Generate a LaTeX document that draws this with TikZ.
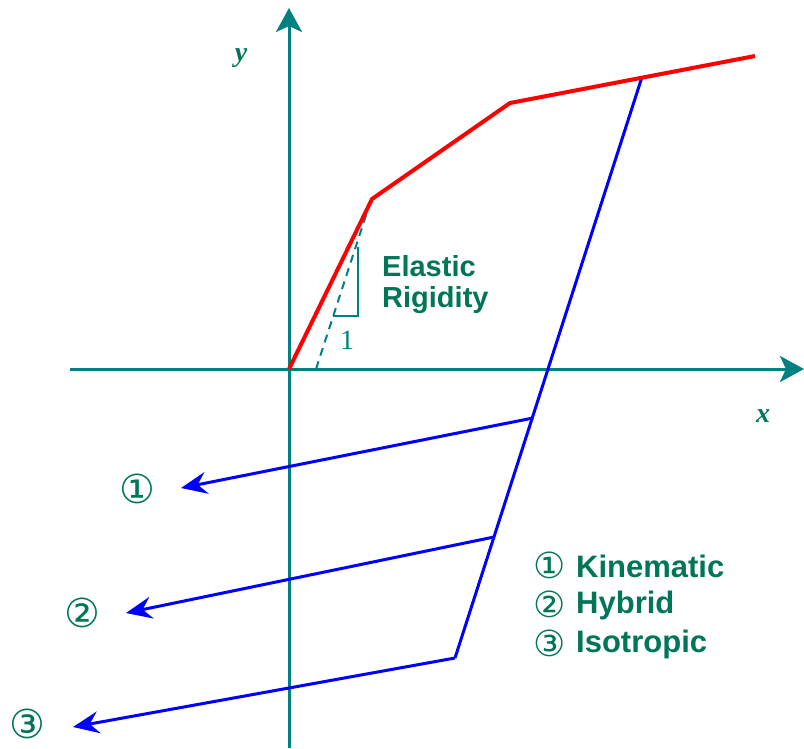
\documentclass[tikz,border=0pt]{standalone}
\usepackage{fontspec}
\setmainfont{Liberation Sans}
\newfontfamily\symfont{DejaVu Sans}
\newfontfamily\serifit{Liberation Serif}
\usetikzlibrary{arrows.meta}
\definecolor{axisteal}{RGB}{0,128,128}
\definecolor{txtgreen}{RGB}{0,118,88}
\tikzset{
  axisline/.style={draw=axisteal, line width=3pt, -{Stealth[length=24pt,width=26pt,inset=6pt]}},
  redline/.style={draw=red, line width=4pt, line join=miter},
  blueline/.style={draw=blue, line width=3pt},
  bluearrow/.style={draw=blue, line width=3pt, -{Stealth[length=26pt,width=22pt,inset=9pt]}},
  lbl/.style={text=txtgreen, font=\bfseries\fontsize{29}{34}\selectfont, inner sep=0pt},
  leg/.style={text=txtgreen, font=\bfseries\fontsize{31}{36}\selectfont, inner sep=0pt},
  circnum/.style={text=txtgreen, font=\symfont\fontsize{40}{42}\selectfont, inner sep=0pt},
  legnum/.style={text=txtgreen, font=\symfont\fontsize{36}{38}\selectfont, inner sep=0pt},
  axlbl/.style={text=txtgreen, font=\serifit\bfseries\itshape\fontsize{28}{30}\selectfont, inner sep=0pt},
}
\begin{document}
\begin{tikzpicture}[x=1pt,y=-1pt]
\useasboundingbox (0,0) rectangle (804,748);
% axes
\coordinate (xs) at (70,369);
\coordinate (xe) at (804,369);
\coordinate (ys) at (289,748);
\coordinate (ye) at (289,8);
\draw[axisline] (xs) -- (xe);
\draw[axisline] (ys) -- (ye);
\node[axlbl] (ylab) at (241,58) {y};
\node[axlbl] (xlab) at (763,416) {x};
% red curve
\coordinate (o) at (289,369);
\coordinate (r1) at (372,199);
\coordinate (r2) at (510,103);
\coordinate (r3) at (755,56);
% dashed elastic line
\coordinate (d0) at (316,369);
\coordinate (d1) at (370,203);
\draw[axisteal, line width=2pt, dash pattern=on 8pt off 6pt] (d0) -- (d1);
% slope triangle
\coordinate (t1) at (358,247);
\coordinate (t2) at (358,316);
\coordinate (t3) at (333,316);
\draw[axisteal, line width=1.5pt] (t1) -- (t2) -- (t3);
\node[text=axisteal, font=\serifit\fontsize{28}{30}\selectfont, inner sep=0pt] (one) at (347,340) {1};
\node[lbl, anchor=west] (el1) at (382,266) {Elastic};
\node[lbl, anchor=west] (el2) at (382,300) {Rigidity};
% blue unloading line
\coordinate (b0) at (642,77);
\coordinate (b1) at (533,418);
\coordinate (b2) at (494,537);
\coordinate (b3) at (455,658);
\draw[blueline] (b0) -- (b3);
% circled numbers at arrow ends
\node[circnum] (c1) at (137,489) {①};
\node[circnum] (c2) at (82,613) {②};
\node[circnum] (c3) at (27,724) {③};
\coordinate (a1) at (181,488);
\coordinate (a2) at (126,613);
\coordinate (a3) at (73,727);
\draw[bluearrow] (b1) -- (a1);
\draw[bluearrow] (b2) -- (a2);
\draw[bluearrow] (b3) -- (a3);
\draw[redline] (o) -- (r1) -- (r2) -- (r3);
% legend
\node[legnum] (k0) at (550,565) {①};
\node[legnum] (h0) at (550,604) {②};
\node[legnum] (i0) at (550,643) {③};
\node[leg, anchor=west] (k) at (576,566) {Kinematic};
\node[leg, anchor=west] (h) at (576,605) {Hybrid};
\node[leg, anchor=west] (i) at (576,644) {Isotropic};
\end{tikzpicture}
\end{document}
